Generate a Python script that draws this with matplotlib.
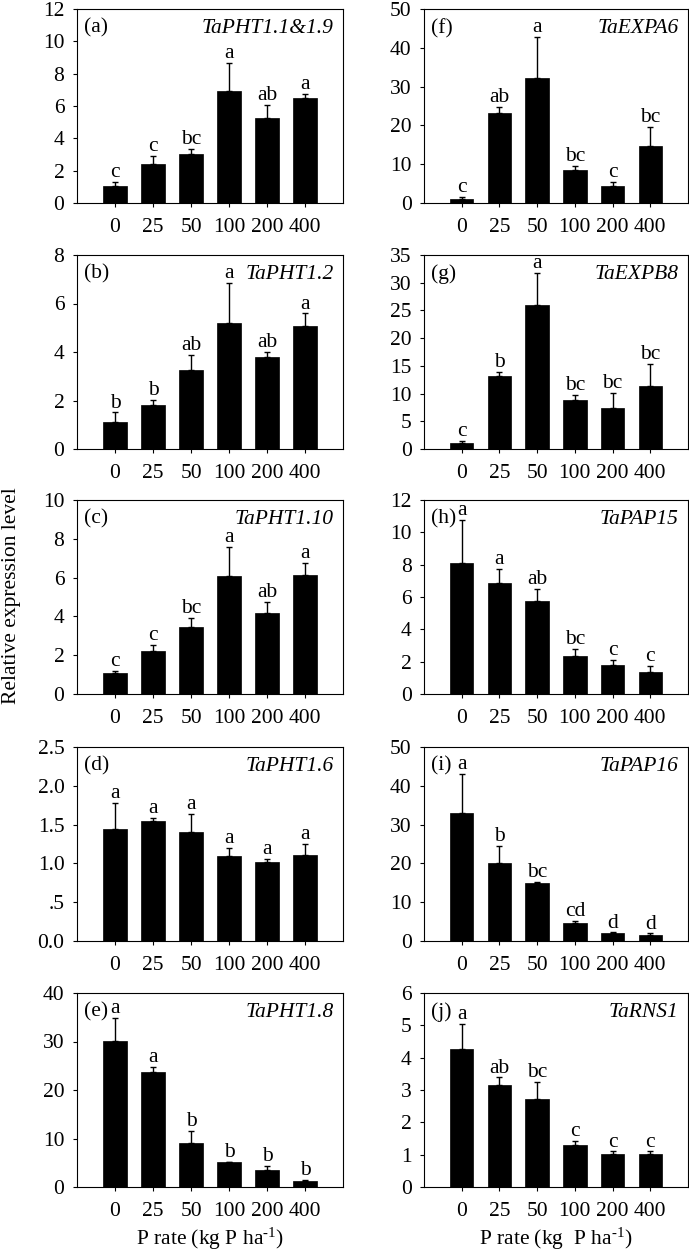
import matplotlib
matplotlib.use("Agg")
import matplotlib.pyplot as plt
import numpy as np

plt.rcParams['font.family'] = ['Liberation Serif', 'DejaVu Serif']
plt.rcParams['mathtext.fontset'] = 'custom'
plt.rcParams['mathtext.rm'] = 'Liberation Serif'
plt.rcParams['mathtext.it'] = 'Liberation Serif:italic'

p_rates = ['0', '25', '50', '100', '200', '400']

# panel tags, gene names
tags = ['(a)', '(b)', '(c)', '(d)', '(e)', '(f)', '(g)', '(h)', '(i)', '(j)']
genes = ['TaPHT1.1&1.9', 'TaPHT1.2', 'TaPHT1.10', 'TaPHT1.6', 'TaPHT1.8',
         'TaEXPA6', 'TaEXPB8', 'TaPAP15', 'TaPAP16', 'TaRNS1']

# means and standard errors
a_mean = [1.05, 2.40, 3.06, 6.92, 5.28, 6.50]
a_err = [0.25, 0.52, 0.29, 1.75, 0.77, 0.23]
b_mean = [1.13, 1.82, 3.24, 5.20, 3.79, 5.09]
b_err = [0.38, 0.21, 0.64, 1.65, 0.20, 0.50]
c_mean = [1.06, 2.21, 3.45, 6.10, 4.15, 6.14]
c_err = [0.15, 0.32, 0.46, 1.46, 0.58, 0.62]
d_mean = [1.44, 1.54, 1.40, 1.10, 1.02, 1.11]
d_err = [0.34, 0.05, 0.24, 0.10, 0.04, 0.14]
e_mean = [30.2, 23.8, 9.0, 5.07, 3.6, 1.23]
e_err = [4.6, 0.9, 2.6, 0.13, 0.8, 0.21]
f_mean = [1.03, 23.2, 32.3, 8.4, 4.4, 14.8]
f_err = [0.43, 1.5, 10.4, 1.1, 1.0, 4.9]
g_mean = [1.15, 13.2, 25.9, 8.9, 7.4, 11.3]
g_err = [0.35, 0.7, 5.8, 0.9, 2.7, 4.0]
h_mean = [8.11, 6.87, 5.75, 2.32, 1.78, 1.37]
h_err = [2.65, 0.85, 0.73, 0.49, 0.35, 0.39]
i_mean = [33.0, 20.0, 15.0, 4.7, 2.0, 1.46]
i_err = [10.0, 4.4, 0.3, 0.4, 0.2, 0.5]
j_mean = [4.27, 3.14, 2.71, 1.31, 1.03, 1.03]
j_err = [0.78, 0.25, 0.54, 0.12, 0.07, 0.07]

# significance letters
a_sig = ['c', 'c', 'bc', 'a', 'ab', 'a']
b_sig = ['b', 'b', 'ab', 'a', 'ab', 'a']
c_sig = ['c', 'c', 'bc', 'a', 'ab', 'a']
d_sig = ['a', 'a', 'a', 'a', 'a', 'a']
e_sig = ['a', 'a', 'b', 'b', 'b', 'b']
f_sig = ['c', 'ab', 'a', 'bc', 'c', 'bc']
g_sig = ['c', 'b', 'a', 'bc', 'bc', 'bc']
h_sig = ['a', 'a', 'ab', 'bc', 'c', 'c']
i_sig = ['a', 'b', 'bc', 'cd', 'd', 'd']
j_sig = ['a', 'ab', 'bc', 'c', 'c', 'c']

# y axis: max and step
a_ylim, b_ylim, c_ylim, d_ylim, e_ylim = (12, 2), (8, 2), (10, 2), (2.5, 0.5), (40, 10)
f_ylim, g_ylim, h_ylim, i_ylim, j_ylim = (50, 10), (35, 5), (12, 2), (50, 10), (6, 1)

means = [a_mean, b_mean, c_mean, d_mean, e_mean, f_mean, g_mean, h_mean, i_mean, j_mean]
errs = [a_err, b_err, c_err, d_err, e_err, f_err, g_err, h_err, i_err, j_err]
sigs = [a_sig, b_sig, c_sig, d_sig, e_sig, f_sig, g_sig, h_sig, i_sig, j_sig]
ylims = [a_ylim, b_ylim, c_ylim, d_ylim, e_ylim, f_ylim, g_ylim, h_ylim, i_ylim, j_ylim]

W, H = 689, 1254
fig = plt.figure(figsize=(W / 100, H / 100), dpi=100)

col_x = [(77, 266), (424, 264)]
row_top = [9, 255, 500, 747, 993]
row_h = 194
fs = 15.5

x = np.arange(len(p_rates))
for k in range(10):
    col, row = k // 5, k % 5
    x0, w = col_x[col]
    ax = fig.add_axes([x0 / W, 1 - (row_top[row] + row_h) / H, w / W, row_h / H])
    ax.bar(x, means[k], width=0.62, color='black', edgecolor='black', linewidth=0.5)
    ax.errorbar(x, means[k], yerr=[np.zeros(6), errs[k]], fmt='none', ecolor='black',
                elinewidth=1, capsize=2.5, capthick=1)
    for xi, m, e, s in zip(x, means[k], errs[k], sigs[k]):
        ax.annotate(s, (xi, m + e), xytext=(0, 3.5), textcoords='offset points',
                    ha='center', va='baseline', fontsize=fs)
    ymax, step = ylims[k]
    ax.set_ylim(0, ymax)
    ax.set_xlim(-1, 6)
    ticks = np.arange(0, ymax + step / 2, step)
    ax.set_yticks(ticks)
    if k == 3:
        ax.set_yticklabels(['0.0', '.5', '1.0', '1.5', '2.0', '2.5'])
    ax.set_xticks(x)
    ax.set_xticklabels(p_rates)
    ax.tick_params(axis='x', direction='out', length=3, width=0.8, pad=8, labelsize=fs)
    ax.tick_params(axis='y', direction='out', length=3, width=0.8, pad=6, labelsize=fs)
    for sp in ax.spines.values():
        sp.set_linewidth(0.8)
    ax.text(0.025, 0.95, tags[k], transform=ax.transAxes, ha='left', va='top', fontsize=fs)
    ax.text(0.965, 0.95, genes[k], transform=ax.transAxes, ha='right', va='top',
            fontsize=fs, style='italic')
    if row == 4:
        if col == 0:
            ax.set_xlabel('P rate (kg P ha$^{\\text{-1}}$)', fontsize=fs, labelpad=3)
        else:
            ax.set_xlabel('P rate (kg  P ha$^{\\text{-1}}$)', fontsize=fs, labelpad=3)

fig.text(12 / W, 1 - 596 / H, 'Relative expression level', rotation=90,
         ha='center', va='center', fontsize=fs)

fig.savefig('out.png', dpi=100)
